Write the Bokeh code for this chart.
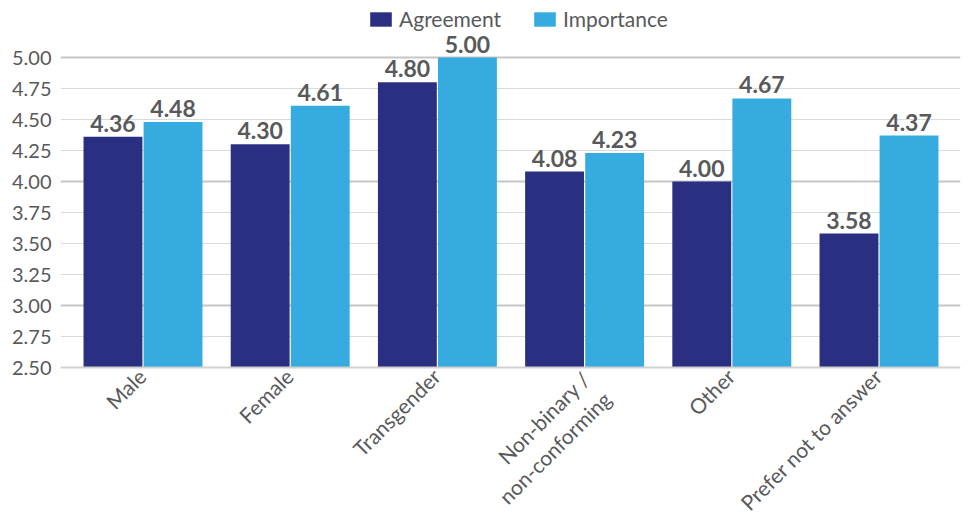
import math
from bokeh.plotting import figure
from bokeh.models import ColumnDataSource, FixedTicker, Range1d, Legend, LegendItem, Span, NumeralTickFormatter, Grid
from bokeh.core.properties import value
from bokeh.embed import file_html
from bokeh.resources import INLINE

categories = ["Male", "Female", "Transgender", "Non-binary /\nnon-conforming", "Other", "Prefer not to answer"]
agreement = [4.36, 4.30, 4.80, 4.08, 4.00, 3.58]
importance = [4.48, 4.61, 5.00, 4.23, 4.67, 4.37]
y_ticks = [2.50, 2.75, 3.00, 3.25, 3.50, 3.75, 4.00, 4.25, 4.50, 4.75, 5.00]
major_ticks = [3.00, 4.00, 5.00]

DARK = "#2B2F81"
LIGHT = "#35ABE0"
TXT = "#58595B"
FONT = "Lato"

n = len(categories)
idx = list(range(n))
off = 0.204
y_min = y_ticks[0]

src_a = ColumnDataSource(dict(x=[i - off for i in idx], top=agreement,
                              lab=[f"{v:.2f}" for v in agreement]))
src_i = ColumnDataSource(dict(x=[i + off for i in idx], top=importance,
                              lab=[f"{v:.2f}" for v in importance]))

px_per_unit = 124.0
frame_h = 515
axis_y_px = 367
frame_w = 900
y_end = y_min + axis_y_px / px_per_unit
y_start = y_min - (frame_h - axis_y_px) / px_per_unit
step = 147.2
x_start = (60 - 142.5) / step
x_end = x_start + frame_w / step

p = figure(width=969, height=515, output_backend="svg", toolbar_location=None,
           x_range=Range1d(x_start, x_end), y_range=Range1d(y_start, y_end),
           min_border_left=60, min_border_right=9, min_border_top=0, min_border_bottom=0)
p.outline_line_color = None
p.background_fill_color = "white"
p.border_fill_color = "white"

p.xaxis.visible = False
p.yaxis.ticker = FixedTicker(ticks=y_ticks)
p.yaxis.formatter = NumeralTickFormatter(format="0.00")
p.yaxis.axis_line_color = None
p.yaxis.major_tick_line_color = None
p.yaxis.minor_tick_line_color = None
p.yaxis.major_label_standoff = 3
p.yaxis.major_label_text_font = FONT
p.yaxis.major_label_text_font_size = "20px"
p.yaxis.major_label_text_color = TXT

p.xgrid.visible = False
p.ygrid.ticker = FixedTicker(ticks=[t for t in y_ticks if t not in major_ticks and t != y_min])
p.ygrid.grid_line_color = "#dadada"
p.ygrid.grid_line_width = 1
g2 = Grid(dimension=1, ticker=FixedTicker(ticks=major_ticks), grid_line_color="#c6c6c6", grid_line_width=2)
p.add_layout(g2)

ra = p.vbar(x="x", top="top", bottom=y_min, width=0.4, source=src_a, fill_color=DARK, line_color=None)
ri = p.vbar(x="x", top="top", bottom=y_min, width=0.4, source=src_i, fill_color=LIGHT, line_color=None)

base = Span(location=y_min, dimension="width", line_color="#d0d0d0", line_width=2)
p.add_layout(base)

for src in (src_a, src_i):
    p.text(x="x", y="top", text="lab", source=src, text_align="center", text_baseline="bottom",
           y_offset=-5, text_font=value(FONT), text_font_style="bold", text_font_size="23px",
           text_color=TXT)

# category labels (rotated)
lx, ly, lt, la, lb, ldx, ldy = [], [], [], [], [], [], []
for i, c in enumerate(categories):
    lines = c.split("\n")
    if len(lines) == 1:
        lx.append(i); ly.append(y_min); lt.append(c); la.append("right"); lb.append("top")
        ldx.append(-10); ldy.append(-4)
    else:
        for (dx, dy), t in zip([(-41, 50), (-30, 80)], lines):
            lx.append(i); ly.append(y_min); lt.append(t); la.append("center"); lb.append("middle")
            ldx.append(dx); ldy.append(dy)
lsrc = ColumnDataSource(dict(x=lx, y=ly, t=lt, a=la, b=lb, dx=ldx, dy=ldy))
p.text(x="x", y="y", text="t", source=lsrc, angle=math.pi / 4, text_align="a", text_baseline="b",
       x_offset="dx", y_offset="dy", text_font=value(FONT), text_font_size="21px", text_color=TXT)

legend = Legend(items=[LegendItem(label="Agreement", renderers=[ra]),
                       LegendItem(label="Importance", renderers=[ri])],
                orientation="horizontal", location=(307, frame_h - 31),
                glyph_width=27, glyph_height=18, label_standoff=5, spacing=30,
                padding=0, margin=0, border_line_color=None, background_fill_alpha=0,
                label_text_font=FONT, label_text_font_size="21px", label_text_color=TXT,
                label_height=20)
p.add_layout(legend)

open("out.html", "w").write(file_html(p, INLINE))
